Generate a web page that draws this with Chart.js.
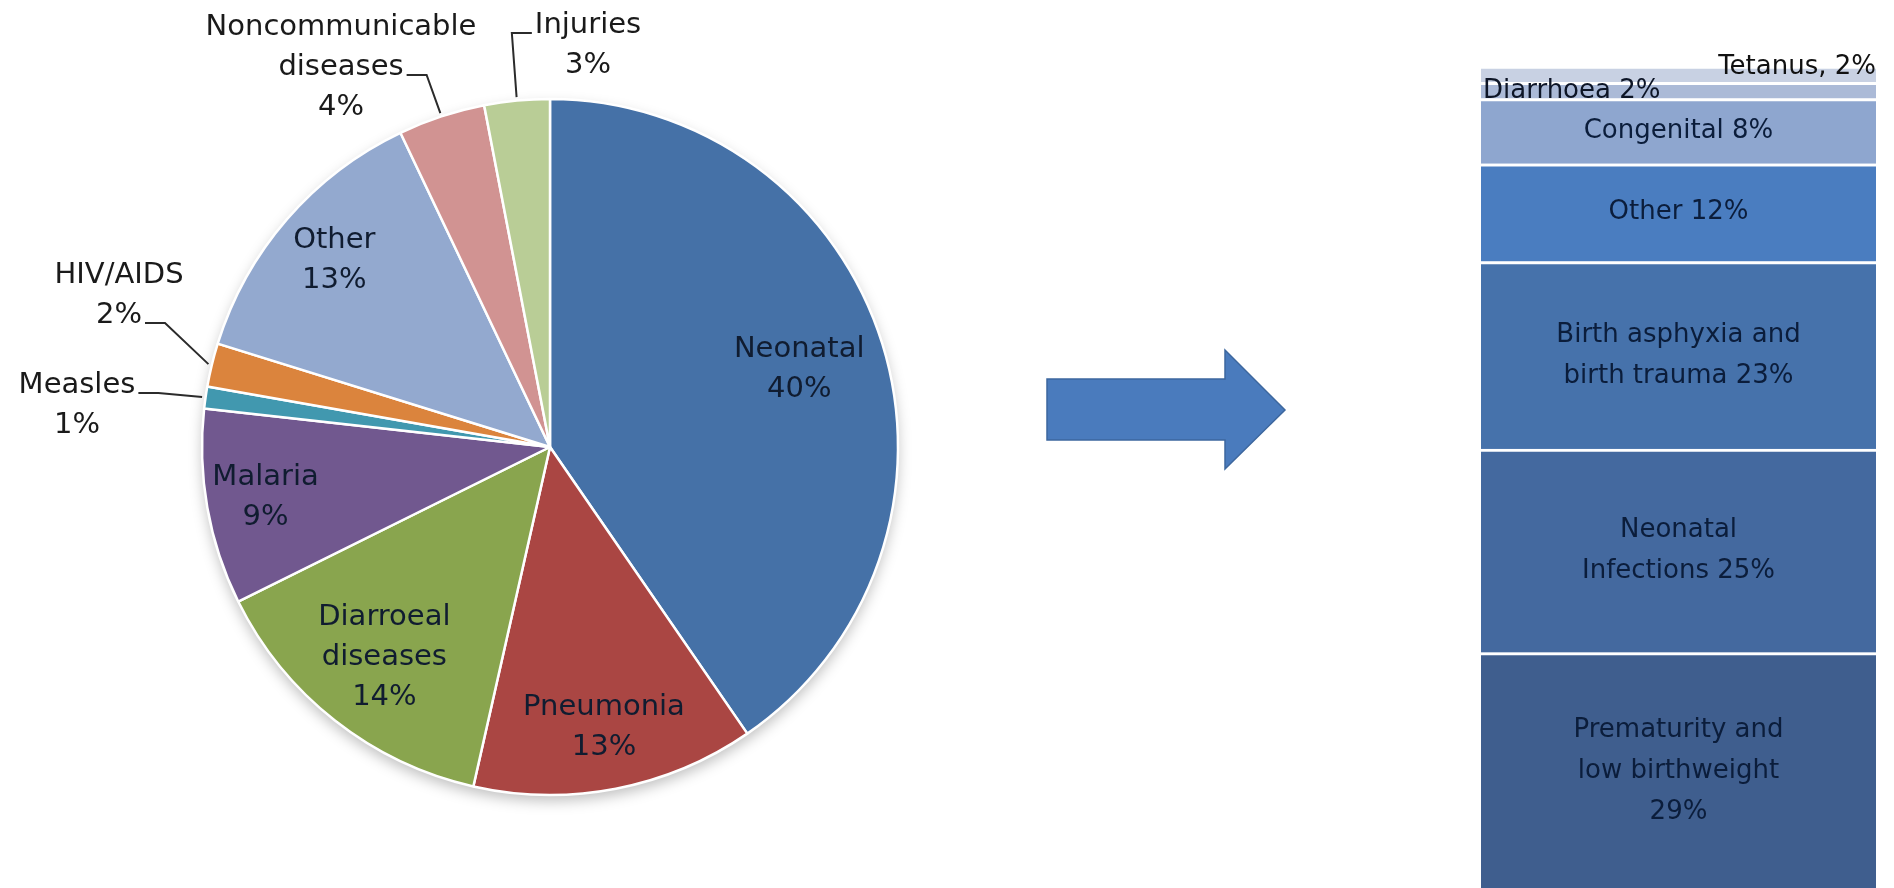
<!DOCTYPE html>
<html>
<head>
<meta charset="utf-8">
<title>Causes of child deaths</title>
<script src="https://cdn.jsdelivr.net/npm/chart.js@4/dist/chart.umd.min.js"></script>
<style>
  html, body { margin: 0; padding: 0; background: #ffffff; overflow: hidden; }
  #stage { position: relative; width: 1894px; height: 888px; overflow: hidden; }
  #pieCanvas { position: absolute; left: 0; top: 0; }
  #barCanvas { position: absolute; left: 1481px; top: 0; }
  #arrow { position: absolute; left: 0; top: 0; }
</style>
</head>
<body>
<div id="stage">
  <canvas id="pieCanvas" width="1400" height="888"></canvas>
  <svg id="arrow" width="1894" height="888">
    <polygon points="1047,379 1225,379 1225,350 1285,410 1225,469 1225,440 1047,440"
             fill="#4a7bbd" stroke="#3d679e" stroke-width="1.5"/>
  </svg>
  <canvas id="barCanvas" width="395" height="889"></canvas>
</div>
<script>
// ---- Under-five deaths by cause (pie) ----
const pieCategories = ['Neonatal', 'Pneumonia', 'Diarroeal diseases', 'Malaria', 'Measles',
                       'HIV/AIDS', 'Other', 'Noncommunicable diseases', 'Injuries'];
const pieValues = [40, 13, 14, 9, 1, 2, 13, 4, 3];
const pieNameLines = [['Neonatal'], ['Pneumonia'], ['Diarroeal', 'diseases'], ['Malaria'], ['Measles'],
                      ['HIV/AIDS'], ['Other'], ['Noncommunicable', 'diseases'], ['Injuries']];
const pieColors = ['#4571a7', '#aa4643', '#89a54e', '#71588f', '#4198af',
                   '#db843d', '#93a9cf', '#d19392', '#b9cd96'];

// ---- Neonatal deaths by cause (stacked column, bottom to top) ----
const barCategories = ['Prematurity and low birthweight', 'Neonatal Infections',
                       'Birth asphyxia and birth trauma', 'Other', 'Congenital', 'Diarrhoea', 'Tetanus'];
const barValues = [29, 25, 23, 12, 8, 2, 2];
const barLabelTemplates = ['Prematurity and\nlow birthweight\n{v}%', 'Neonatal\nInfections {v}%',
                           'Birth asphyxia and\nbirth trauma {v}%', 'Other {v}%', 'Congenital {v}%',
                           'Diarrhoea {v}%', 'Tetanus, {v}%'];
const barColors = ['#3f5e8e', '#44699f', '#4672ab', '#4a7dc0', '#8ea6cf', '#abbad7', '#c8d1e3'];

const FONT = '"DejaVu Sans", sans-serif';

// label placement: inside labels sit at a fraction of the radius along the slice middle,
// outside labels get a text anchor (relative to the pie centre) and a leader line
const pieLabelLayout = [
  { r: 0.75 },
  { r: 0.82 },
  { r: 0.77 },
  { r: 0.83 },
  { out: true, dx: -473, dy: -54, attach: 0, side: 'right' },
  { out: true, dx: -431, dy: -164, attach: 1, side: 'right' },
  { r: 0.82 },
  { out: true, dx: -209, dy: -412, attach: 1, side: 'right' },
  { out: true, dx: 38, dy: -414, attach: 0, side: 'left' }
];

const pieDecor = {
  id: 'pieDecor',
  beforeDatasetsDraw(chart) {
    const a = chart.getDatasetMeta(0).data[0];
    const ctx = chart.ctx;
    ctx.save();
    ctx.shadowColor = 'rgba(0,0,0,0.25)';
    ctx.shadowBlur = 14;
    ctx.shadowOffsetY = 6;
    ctx.beginPath();
    ctx.arc(a.x, a.y, a.outerRadius, 0, Math.PI * 2);
    ctx.fillStyle = '#ffffff';
    ctx.fill();
    ctx.restore();
  },
  afterDatasetsDraw(chart) {
    const ctx = chart.ctx;
    const meta = chart.getDatasetMeta(0);
    ctx.save();
    ctx.font = '29px ' + FONT;
    ctx.textAlign = 'center';
    meta.data.forEach((arc, i) => {
      const p = arc.getProps(['x', 'y', 'startAngle', 'endAngle', 'outerRadius'], true);
      const mid = (p.startAngle + p.endAngle) / 2;
      const lines = [...pieNameLines[i], pieValues[i] + '%'];
      const lay = pieLabelLayout[i];
      const LH = 40;
      if (!lay.out) {
        const cx = p.x + Math.cos(mid) * p.outerRadius * lay.r;
        const cy = p.y + Math.sin(mid) * p.outerRadius * lay.r;
        ctx.fillStyle = '#101c30';
        ctx.textBaseline = 'middle';
        lines.forEach((t, k) => ctx.fillText(t, cx, cy + (k - (lines.length - 1) / 2) * LH));
      } else {
        const cx = p.x + lay.dx;
        const by = p.y + lay.dy;
        ctx.fillStyle = '#1a1a1a';
        ctx.textBaseline = 'alphabetic';
        lines.forEach((t, k) => ctx.fillText(t, cx, by + k * LH));
        const w = ctx.measureText(lines[lay.attach]).width;
        const ly = by + lay.attach * LH;
        const dir = lay.side === 'right' ? 1 : -1;
        const sx = cx + dir * (w / 2 + 3);
        const ex = p.x + Math.cos(mid) * p.outerRadius * 1.01;
        const ey = p.y + Math.sin(mid) * p.outerRadius * 1.01;
        ctx.beginPath();
        ctx.moveTo(sx, ly);
        ctx.lineTo(sx + dir * 20, ly);
        ctx.lineTo(ex, ey);
        ctx.strokeStyle = '#2b2b2b';
        ctx.lineWidth = 2;
        ctx.stroke();
      }
    });
    ctx.restore();
  }
};

new Chart(document.getElementById('pieCanvas'), {
  type: 'pie',
  data: {
    labels: pieCategories,
    datasets: [{
      data: pieValues,
      backgroundColor: pieColors,
      borderColor: '#ffffff',
      borderWidth: 2.5,
      radius: 348
    }]
  },
  options: {
    responsive: false,
    animation: false,
    events: [],
    layout: { padding: { left: 202, right: 502, top: 99, bottom: 93 } },
    plugins: { legend: { display: false }, tooltip: { enabled: false } }
  },
  plugins: [pieDecor]
});

const barLabelStyle = [
  {}, {}, {}, {}, {},
  { align: 'left', baselineFromBottom: 1 },
  { align: 'right', baselineFromTop: 8 }
];

const barLabels = {
  id: 'barLabels',
  afterDatasetsDraw(chart) {
    const ctx = chart.ctx;
    const area = chart.chartArea;
    ctx.save();
    ctx.font = '26px ' + FONT;
    chart.data.datasets.forEach((ds, i) => {
      const el = chart.getDatasetMeta(i).data[0];
      const top = Math.min(el.y, el.base), bottom = Math.max(el.y, el.base);
      const lines = barLabelTemplates[i].replace('{v}', barValues[i]).split('\n');
      const st = barLabelStyle[i];
      if (st.align === 'left') {
        ctx.fillStyle = '#0d1526';
        ctx.textAlign = 'left';
        ctx.textBaseline = 'alphabetic';
        ctx.fillText(lines[0], area.left + 2, bottom - st.baselineFromBottom);
      } else if (st.align === 'right') {
        ctx.fillStyle = '#111111';
        ctx.textAlign = 'right';
        ctx.textBaseline = 'alphabetic';
        ctx.fillText(lines[0], area.right, top + st.baselineFromTop);
      } else {
        const LH = 41;
        const cy = (top + bottom) / 2;
        ctx.fillStyle = '#0b1d3b';
        ctx.textAlign = 'center';
        ctx.textBaseline = 'middle';
        lines.forEach((t, k) => ctx.fillText(t, (area.left + area.right) / 2, cy + (k - (lines.length - 1) / 2) * LH));
      }
    });
    ctx.restore();
  }
};

new Chart(document.getElementById('barCanvas'), {
  type: 'bar',
  data: {
    labels: [''],
    datasets: barCategories.map((c, i) => ({
      label: c,
      data: [barValues[i]],
      backgroundColor: barColors[i],
      borderColor: '#ffffff',
      borderWidth: { top: 3, right: 0, bottom: 0, left: 0 },
      borderSkipped: false,
      barPercentage: 1,
      categoryPercentage: 1
    }))
  },
  options: {
    responsive: false,
    animation: false,
    events: [],
    layout: { padding: { top: 66, bottom: 0, left: 0, right: 0 } },
    plugins: { legend: { display: false }, tooltip: { enabled: false } },
    scales: {
      x: { stacked: true, display: false },
      y: { stacked: true, display: false, min: 0, max: 101 }
    }
  },
  plugins: [barLabels]
});
</script>
</body>
</html>
